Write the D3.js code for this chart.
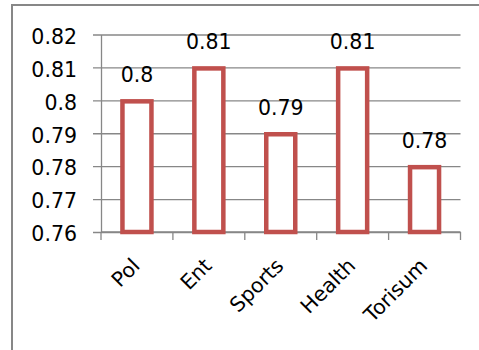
<!DOCTYPE html>
<html>
<head>
<meta charset="utf-8">
<script src="https://cdn.jsdelivr.net/npm/d3@7"></script>
<style>
  html, body { margin: 0; padding: 0; background: #fff; }
  svg { display: block; }
  text { font-family: "DejaVu Sans", sans-serif; fill: #000; }
</style>
</head>
<body>
<svg id="chart" width="479" height="350"></svg>
<script>
// Scores per news category
const categories = ["Pol", "Ent", "Sports", "Health", "Torisum"];
const scores = [0.80, 0.81, 0.79, 0.81, 0.78];
const valueLabels = ["0.8", "0.81", "0.79", "0.81", "0.78"];
const yTicks = [0.76, 0.77, 0.78, 0.79, 0.80, 0.81, 0.82];
const yTickLabels = ["0.76", "0.77", "0.78", "0.79", "0.8", "0.81", "0.82"];

const svg = d3.select("#chart");
const gridColor = "#878787";
const barColor = "#C0504D";
const fontSize = "20.5px";

// Chart frame (extends past the right and bottom edges)
svg.append("rect")
  .attr("x", 12).attr("y", 5)
  .attr("width", 500).attr("height", 400)
  .attr("fill", "none")
  .attr("stroke", gridColor)
  .attr("stroke-width", 2);

const plot = { left: 101, right: 460.5, top: 34.5, bottom: 232 };

const xBand = d3.scaleBand()
  .domain(categories)
  .range([plot.left, plot.right]);

const y = d3.scaleLinear()
  .domain([0.76, 0.82])
  .range([plot.bottom, plot.top]);

// Horizontal gridlines with left tick marks
const yAxis = d3.axisLeft(y)
  .tickValues(yTicks)
  .tickSize(-(plot.right - plot.left))
  .tickSizeOuter(0)
  .tickFormat((d, i) => yTickLabels[i]);

const gy = svg.append("g")
  .attr("transform", `translate(${plot.left},0)`)
  .call(yAxis);
gy.select(".domain").attr("stroke", gridColor).attr("stroke-width", 1.3);
gy.selectAll(".tick line")
  .attr("stroke", gridColor)
  .attr("stroke-width", 1.3)
  .attr("x1", -8);
gy.selectAll(".tick text")
  .attr("x", -24)
  .attr("dy", "0.43em")
  .style("font-size", fontSize)
  .style("font-family", "'DejaVu Sans', sans-serif")
  .attr("fill", "#000");

// Category axis: ticks at band boundaries
const boundaries = categories.map(c => xBand(c)).concat([plot.right]);
const gx = svg.append("g");
gx.append("line")
  .attr("x1", plot.left).attr("x2", plot.right)
  .attr("y1", plot.bottom).attr("y2", plot.bottom)
  .attr("stroke", gridColor).attr("stroke-width", 1.3);
gx.selectAll("line.tk")
  .data(boundaries)
  .join("line")
  .attr("class", "tk")
  .attr("x1", d => d).attr("x2", d => d)
  .attr("y1", plot.bottom).attr("y2", plot.bottom + 8)
  .attr("stroke", gridColor).attr("stroke-width", 1.3);

// Bars: white fill with red outline
svg.append("g")
  .selectAll("rect")
  .data(scores)
  .join("rect")
  .attr("x", (d, i) => xBand(categories[i]) + xBand.bandwidth() / 2 - 14.5)
  .attr("width", 29)
  .attr("y", d => y(d) + 1)
  .attr("height", d => plot.bottom - y(d) - 1)
  .attr("fill", "#fff")
  .attr("stroke", barColor)
  .attr("stroke-width", 4.5);

// Value labels above bars
svg.append("g")
  .selectAll("text")
  .data(scores)
  .join("text")
  .attr("x", (d, i) => xBand(categories[i]) + xBand.bandwidth() / 2)
  .attr("y", d => y(d) - 18)
  .attr("text-anchor", "middle")
  .style("font-size", fontSize)
  .text((d, i) => valueLabels[i]);

// Rotated category labels
svg.append("g")
  .selectAll("text")
  .data(categories)
  .join("text")
  .attr("transform", d => `translate(${xBand(d) + xBand.bandwidth() / 2 - 1},262) rotate(-45)`)
  .attr("text-anchor", "end")
  .attr("dy", "0.35em")
  .style("font-size", fontSize)
  .text(d => d);
</script>
</body>
</html>
